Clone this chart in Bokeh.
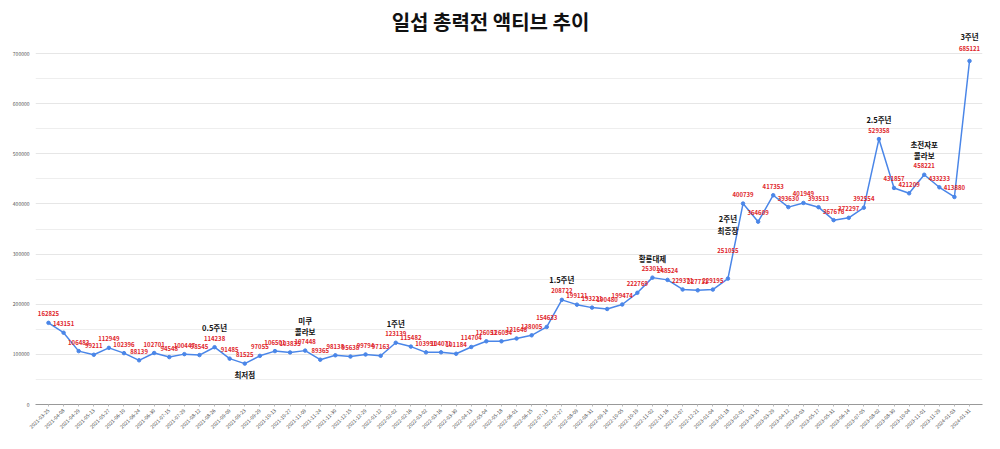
from bokeh.plotting import figure
from bokeh.models import ColumnDataSource, Range1d, FixedTicker, Label, LabelSet, BasicTickFormatter
from bokeh.core.properties import value
from bokeh.embed import file_html
from bokeh.resources import INLINE
import math

dates = ["2021-03-25", "2021-04-08", "2021-04-29", "2021-05-13", "2021-05-27", "2021-06-10",
         "2021-06-24", "2021-06-30", "2021-07-15", "2021-07-29", "2021-08-12", "2021-08-26",
         "2021-09-09", "2021-09-23", "2021-09-29", "2021-10-13", "2021-10-27", "2021-11-09",
         "2021-11-24", "2021-11-30", "2021-12-15", "2021-12-29", "2022-01-12", "2022-02-02",
         "2022-02-16", "2022-03-02", "2022-03-16", "2022-03-30", "2022-04-13", "2022-05-04",
         "2022-05-18", "2022-06-01", "2022-06-15", "2022-07-13", "2022-07-27", "2022-08-09",
         "2022-08-31", "2022-09-14", "2022-10-05", "2022-10-19", "2022-11-02", "2022-11-16",
         "2022-12-07", "2022-12-21", "2023-01-04", "2023-01-18", "2023-02-01", "2023-03-15",
         "2023-03-29", "2023-04-12", "2023-05-03", "2023-05-17", "2023-05-31", "2023-06-14",
         "2023-07-05", "2023-08-02", "2023-08-30", "2023-10-04", "2023-11-01", "2023-11-29",
         "2024-01-03", "2024-01-31"]

actives = [162825, 143151, 106483, 99211, 112949, 102396, 88139, 102701, 94548, 100447,
           98545, 114238, 91485, 81525, 97055, 106501, 103835, 107448, 89365, 98138,
           95638, 99794, 97163, 123139, 115482, 103991, 104071, 101184, 114704, 126051,
           126054, 131646, 138005, 154633, 208722, 199121, 193221, 190480, 199474, 222769,
           253011, 248524, 229371, 227711, 229195, 251055, 400739, 364609, 417353, 393630,
           401949, 393513, 367676, 372297, 392554, 529358, 431857, 421209, 458221, 433233,
           413880, 685121]

event_index = [11, 13, 17, 17, 23, 34, 40, 45, 45, 55, 58, 58, 61]
event_text = ["0.5주년", "최저점", "미쿠", "콜라보", "1주년", "1.5주년", "황룡대제",
              "2주년", "최종장", "2.5주년", "초전자포", "콜라보", "3주년"]

y_ticks = [0, 100000, 200000, 300000, 400000, 500000, 600000, 700000]

# ---- styling / layout (not data); offsets in screen px, positive = up ----
event_offsets = [20, -11, 30, 19, 19, 20, 19, 60, 48, 20, 30, 19, 24]
label_offset_default = 9
label_offset_override = {45: 28, 61: 12}

FONT = "Noto Sans CJK KR"
n = len(dates)
xs = list(range(n))
PAD = 0.86  # x padding in category steps

p = figure(width=992, height=441,
           x_range=Range1d(-PAD, n - 1 + PAD),
           y_range=Range1d(0, 789744),
           output_backend="svg", toolbar_location=None,
           min_border_left=35, min_border_right=10, min_border_top=8, min_border_bottom=37)
p.outline_line_color = None
p.background_fill_color = "white"
p.border_fill_color = "white"

p.xgrid.grid_line_color = None
p.yaxis.ticker = FixedTicker(ticks=y_ticks,
                             minor_ticks=[t + 50000 for t in y_ticks[:-1]])
p.ygrid.grid_line_color = "#e6e6e6"
p.ygrid.minor_grid_line_color = "#eeeeee"
p.yaxis.formatter = BasicTickFormatter(use_scientific=False)
p.yaxis.axis_line_color = None
p.yaxis.major_tick_line_color = None
p.yaxis.minor_tick_line_color = None
p.yaxis.major_label_text_font_size = "5px"
p.yaxis.major_label_text_color = "#555555"
p.yaxis.major_label_text_font = FONT
p.yaxis.major_label_standoff = 0

p.xaxis.ticker = FixedTicker(ticks=xs)
p.xaxis.major_label_overrides = {i: d for i, d in enumerate(dates)}
p.xaxis.major_label_orientation = math.pi / 4
p.xaxis.major_label_text_font_size = "5px"
p.xaxis.major_label_text_color = "#444444"
p.xaxis.major_label_text_font = FONT
p.xaxis.axis_line_color = "#999999"
p.xaxis.major_tick_line_color = "#bbbbbb"
p.xaxis.major_tick_out = 2
p.xaxis.major_tick_in = 0
p.xaxis.minor_tick_line_color = None
p.xaxis.major_label_standoff = 3

src = ColumnDataSource(dict(
    x=xs, y=actives, label=[str(v) for v in actives],
    off=[label_offset_override.get(i, label_offset_default) for i in xs]))

p.line("x", "y", source=src, line_color="#4a86e8", line_width=1.5)
p.scatter("x", "y", source=src, size=3.5, fill_color="#4a86e8", line_color="#4a86e8")

p.add_layout(LabelSet(x="x", y="y", text="label", source=src, y_offset="off",
                      text_font=value(FONT), text_font_style="bold",
                      text_font_size=value("6px"),
                      text_color="#e0262b", text_align="center", text_baseline="middle"))

ev = ColumnDataSource(dict(
    x=event_index, y=[actives[i] for i in event_index], t=event_text, off=event_offsets))
p.add_layout(LabelSet(x="x", y="y", text="t", source=ev, y_offset="off",
                      text_font=value(FONT), text_font_style="bold",
                      text_font_size=value("7.5px"),
                      text_color="#111111", text_align="center", text_baseline="middle"))

title = Label(x=455, y=383, x_units="screen", y_units="screen",
              text="일섭 총력전 액티브 추이", text_font=FONT, text_font_style="bold",
              text_font_size="20px", text_color="#111111",
              text_align="center", text_baseline="middle")
p.add_layout(title)

open("out.html", "w").write(file_html(p, INLINE))
